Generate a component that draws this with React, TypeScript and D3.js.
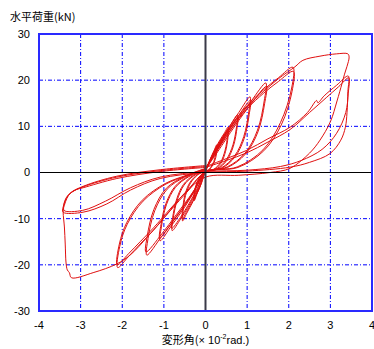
import * as React from "react";
import * as d3 from "d3";

type Pt = [number, number];

const xTicks = [-4, -3, -2, -1, 0, 1, 2, 3, 4];
const yTicks = [-30, -20, -10, 0, 10, 20, 30];
const yTitle = "水平荷重(kN)";
const xTitle = "変形角(";

// load-deformation history, one array per cycle (drift x10^-2 rad, load kN)
const cycle025a: Pt[] = [[0,0],[0.1,2.6],[0.2,4.6],[0.27,6.0],[0.26,4.6],[0.2,2.4],[0.1,0.8],[0,0.2],[-0.1,-2.4],[-0.2,-4.5],[-0.27,-6.1],[-0.26,-4.5],[-0.2,-2.2],[-0.1,-0.6],[0,0.3]];
const cycle025b: Pt[] = [[0,0.3],[0.1,2.5],[0.2,4.4],[0.28,5.7],[0.27,4.3],[0.21,2.2],[0.1,0.7],[0,0.1],[-0.1,-2.3],[-0.2,-4.3],[-0.28,-5.8],[-0.27,-4.3],[-0.2,-2.0],[-0.1,-0.5],[0,0.4]];
const cycle05a: Pt[] = [[0,0.4],[0.15,3.6],[0.3,6.3],[0.45,8.5],[0.54,9.8],[0.53,8.0],[0.47,4.8],[0.36,2.2],[0.2,0.7],[0,0.1],[-0.15,-3.5],[-0.3,-6.3],[-0.45,-8.8],[-0.55,-10.5],[-0.54,-8.5],[-0.48,-5.0],[-0.36,-2.3],[-0.2,-0.6],[0,0.4]];
const cycle05b: Pt[] = [[0,0.4],[0.15,3.3],[0.3,6.0],[0.45,8.1],[0.55,9.4],[0.54,7.6],[0.48,4.5],[0.37,2.0],[0.2,0.6],[0,0.1],[-0.15,-3.2],[-0.3,-6.0],[-0.45,-8.4],[-0.56,-10.1],[-0.55,-8.1],[-0.49,-4.7],[-0.37,-2.1],[-0.2,-0.5],[0,0.5]];
const cycle075a: Pt[] = [[0,0.5],[0.2,4.2],[0.4,7.5],[0.6,10.3],[0.77,12.5],[0.75,10.2],[0.66,6.0],[0.5,2.8],[0.27,0.8],[0,0.1],[-0.2,-3.8],[-0.4,-7.2],[-0.6,-10.1],[-0.8,-12.6],[-0.78,-10.2],[-0.68,-6.0],[-0.52,-2.8],[-0.28,-0.7],[0,0.5]];
const cycle075b: Pt[] = [[0,0.5],[0.2,3.9],[0.4,7.1],[0.6,9.8],[0.78,12.0],[0.76,9.8],[0.67,5.7],[0.51,2.6],[0.28,0.7],[0,0.1],[-0.2,-3.5],[-0.4,-6.8],[-0.6,-9.7],[-0.81,-12.1],[-0.79,-9.8],[-0.69,-5.7],[-0.53,-2.6],[-0.29,-0.6],[0,0.6]];
const cycle10a: Pt[] = [[0,0.6],[0.25,4.8],[0.5,8.8],[0.8,13.0],[1.07,16.4],[1.04,13.2],[0.92,7.8],[0.7,3.6],[0.38,1.0],[0,0.1],[-0.25,-3.8],[-0.5,-7.5],[-0.8,-11.3],[-1.09,-14.8],[-1.06,-11.8],[-0.94,-7.0],[-0.72,-3.2],[-0.4,-0.9],[0,0.6]];
const cycle10b: Pt[] = [[0,0.6],[0.25,4.4],[0.5,8.3],[0.8,12.4],[1.08,15.6],[1.05,12.6],[0.93,7.4],[0.71,3.4],[0.39,0.9],[0,0.1],[-0.25,-3.5],[-0.5,-7.1],[-0.8,-10.8],[-1.1,-14.2],[-1.07,-11.3],[-0.95,-6.7],[-0.73,-3.0],[-0.41,-0.8],[0,0.7]];
const cycle15a: Pt[] = [[0,0.7],[0.3,5.0],[0.7,10.5],[1.1,15.5],[1.45,19.4],[1.41,15.5],[1.25,9.2],[0.95,4.2],[0.52,1.2],[0,0.1],[-0.3,-4.5],[-0.7,-9.5],[-1.05,-13.8],[-1.41,-17.9],[-1.38,-14.3],[-1.22,-8.3],[-0.92,-3.6],[-0.5,-1.0],[0,0.7]];
const cycle15b: Pt[] = [[0,0.7],[0.3,4.6],[0.7,10.0],[1.1,14.9],[1.46,18.6],[1.42,14.9],[1.26,8.8],[0.96,4.0],[0.53,1.1],[0,0.1],[-0.3,-4.2],[-0.7,-9.1],[-1.05,-13.3],[-1.43,-17.2],[-1.4,-13.8],[-1.24,-8.0],[-0.94,-3.4],[-0.51,-0.9],[0,0.8]];
const cycle20a: Pt[] = [[0,0.8],[0.59,9.8],[1.0,14.5],[1.38,17.8],[1.75,20.5],[2.1,22.8],[2.07,18.3],[1.8,10.8],[1.38,4.9],[0.76,1.2],[0,0.1],[-0.4,-3.8],[-0.85,-8.3],[-1.25,-12.5],[-1.57,-15.5],[-1.85,-18.2],[-2.11,-20.6],[-2.06,-16.0],[-1.88,-11.2],[-1.5,-6.2],[-0.95,-2.5],[-0.45,-0.7],[0,0.8]];
const cycle20b: Pt[] = [[0,0.8],[0.6,9.2],[1.0,13.8],[1.4,17.2],[1.75,19.7],[2.11,21.9],[2.08,17.6],[1.82,10.3],[1.4,4.7],[0.78,1.1],[0,0.1],[-0.4,-3.5],[-0.85,-7.9],[-1.25,-12.0],[-1.57,-15.0],[-1.85,-17.6],[-2.12,-20.0],[-2.07,-15.5],[-1.89,-10.8],[-1.52,-6.0],[-0.97,-2.4],[-0.46,-0.6],[0,0.9]];
const cycle34a: Pt[] = [[0,0.9],[0.6,9.6],[1.0,14.2],[1.4,17.6],[1.75,20.3],[2.15,22.9],[2.34,24.3],[2.75,25.2],[3.15,25.7],[3.42,25.7],[3.45,25.0],[3.4,23.0],[3.34,21.3],[3.28,19.3],[3.16,15.5],[3.0,11.0],[2.75,7.0],[2.5,4.2],[2.03,0.9],[1.55,0.0],[0.8,-0.6],[0,-1.0],[-0.5,-4.5],[-0.95,-9.3],[-1.4,-14.0],[-1.8,-17.8],[-2.13,-19.8],[-2.7,-21.7],[-3.22,-22.8],[-3.27,-21.7],[-3.32,-21.1],[-3.35,-19.6],[-3.37,-15.5],[-3.39,-11.8],[-3.42,-8.6],[-3.41,-7.3],[-3.36,-5.7],[-3.24,-4.4],[-2.94,-3.1],[-2.13,-1.0],[-1.09,0.4],[0,1.3]];
const cycle34b: Pt[] = [[0,1.3],[0.5,3.0],[0.99,4.8],[1.5,7.3],[2.03,9.8],[2.45,13.0],[2.67,15.6],[2.7,15.1],[2.85,16.6],[3.15,18.9],[3.43,20.9],[3.42,17.5],[3.4,13.0],[3.36,9.8],[3.25,7.0],[2.99,4.1],[2.5,2.2],[2.03,1.15],[1.0,0.3],[0,0.0],[-1.09,-1.3],[-1.8,-3.8],[-2.37,-6.8],[-2.94,-8.6],[-3.42,-8.6],[-3.42,-7.5],[-3.3,-5.0],[-3.1,-3.7],[-2.94,-3.3],[-2.13,-1.3],[-1.09,0.2],[0,1.1]];
const cycle34c: Pt[] = [[0,1.1],[0.5,2.6],[1.0,4.3],[1.5,6.6],[2.03,9.3],[2.5,13.0],[2.9,16.2],[3.2,18.6],[3.44,20.5],[3.43,17.2],[3.37,13.0],[3.15,8.5],[2.8,5.0],[2.3,2.6],[1.8,1.3],[1.0,0.5],[0,0.2],[-1.09,-1.0],[-1.8,-3.3],[-2.4,-6.2],[-2.95,-8.2],[-3.4,-8.2],[-3.38,-6.8],[-3.25,-4.5],[-2.94,-3.0],[-2.13,-0.8],[-1.09,0.6],[0,1.5]];

const cycles = [
  cycle025a, cycle025b, cycle05a, cycle05b, cycle075a, cycle075b,
  cycle10a, cycle10b, cycle15a, cycle15b, cycle20a, cycle20b,
  cycle34a, cycle34b, cycle34c,
];

const width = 374;
const height = 349;
const marginLeft = 39;
const marginRight = 2;
const marginTop = 34;
const marginBottom = 38;

const App: React.FC = () => {
  const x = d3
    .scaleLinear()
    .domain([-4, 4])
    .range([marginLeft, width - marginRight]);
  const y = d3
    .scaleLinear()
    .domain([-30, 30])
    .range([height - marginBottom, marginTop]);

  const line = d3
    .line<Pt>()
    .curve(d3.curveCatmullRom.alpha(0.5))
    .x((d) => x(d[0]))
    .y((d) => y(d[1]));

  const font = "'Liberation Sans', Arial, sans-serif";
  const cjk = "'Noto Sans CJK JP', sans-serif";

  return (
    <svg
      width={width}
      height={height}
      viewBox={`0 0 ${width} ${height}`}
      style={{ position: "absolute", left: 0, top: 0, background: "#fff" }}
    >
      {/* grid */}
      <g stroke="#0000ff" strokeWidth="1" strokeDasharray="4,2,1,2">
        {xTicks.slice(1, -1).filter((t) => t !== 0).map((t) => (
          <line key={t} x1={x(t)} x2={x(t)} y1={y(30)} y2={y(-30)} />
        ))}
        {yTicks.slice(1, -1).filter((t) => t !== 0).map((t) => (
          <line key={t} x1={x(-4)} x2={x(4)} y1={y(t)} y2={y(t)} />
        ))}
      </g>

      <g fill="none" stroke="#e01010" strokeWidth="1" strokeLinejoin="round">
        {cycles.map((c, i) => (
          <path key={i} d={line(c) || ""} />
        ))}
      </g>

      <line x1={x(0)} x2={x(0)} y1={y(30)} y2={y(-30)} stroke="#3a3a48" strokeWidth="2" />
      <line x1={x(-4)} x2={x(4)} y1={y(0)} y2={y(0)} stroke="#000" strokeWidth="1.2" />

      <rect
        x={x(-4)}
        y={y(30)}
        width={x(4) - x(-4)}
        height={y(-30) - y(30)}
        fill="none"
        stroke="#2a2aff"
        strokeWidth="2"
      />

      <g fontFamily={font} fontSize="11" fill="#000">
        {yTicks.map((t) => (
          <text key={t} x={marginLeft - 9} y={y(t)} dy="0.35em" textAnchor="end">
            {t}
          </text>
        ))}
        {xTicks.map((t) => (
          <text key={t} x={x(t)} y={height - marginBottom + 18} textAnchor="middle">
            {t}
          </text>
        ))}
      </g>

      <text x={10} y={21} fontFamily={cjk} fontSize="11" fill="#000">
        {yTitle}
      </text>
      <text
        x={x(0)}
        y={344}
        textAnchor="middle"
        fontFamily={cjk}
        fontSize="11"
        fill="#000"
      >
        {xTitle}
        <tspan fontFamily={font}>× 10</tspan>
        <tspan fontFamily={font} fontSize="7" dy="-5">-2</tspan>
        <tspan fontFamily={font} dy="5">rad.)</tspan>
      </text>
    </svg>
  );
};

export default App;
